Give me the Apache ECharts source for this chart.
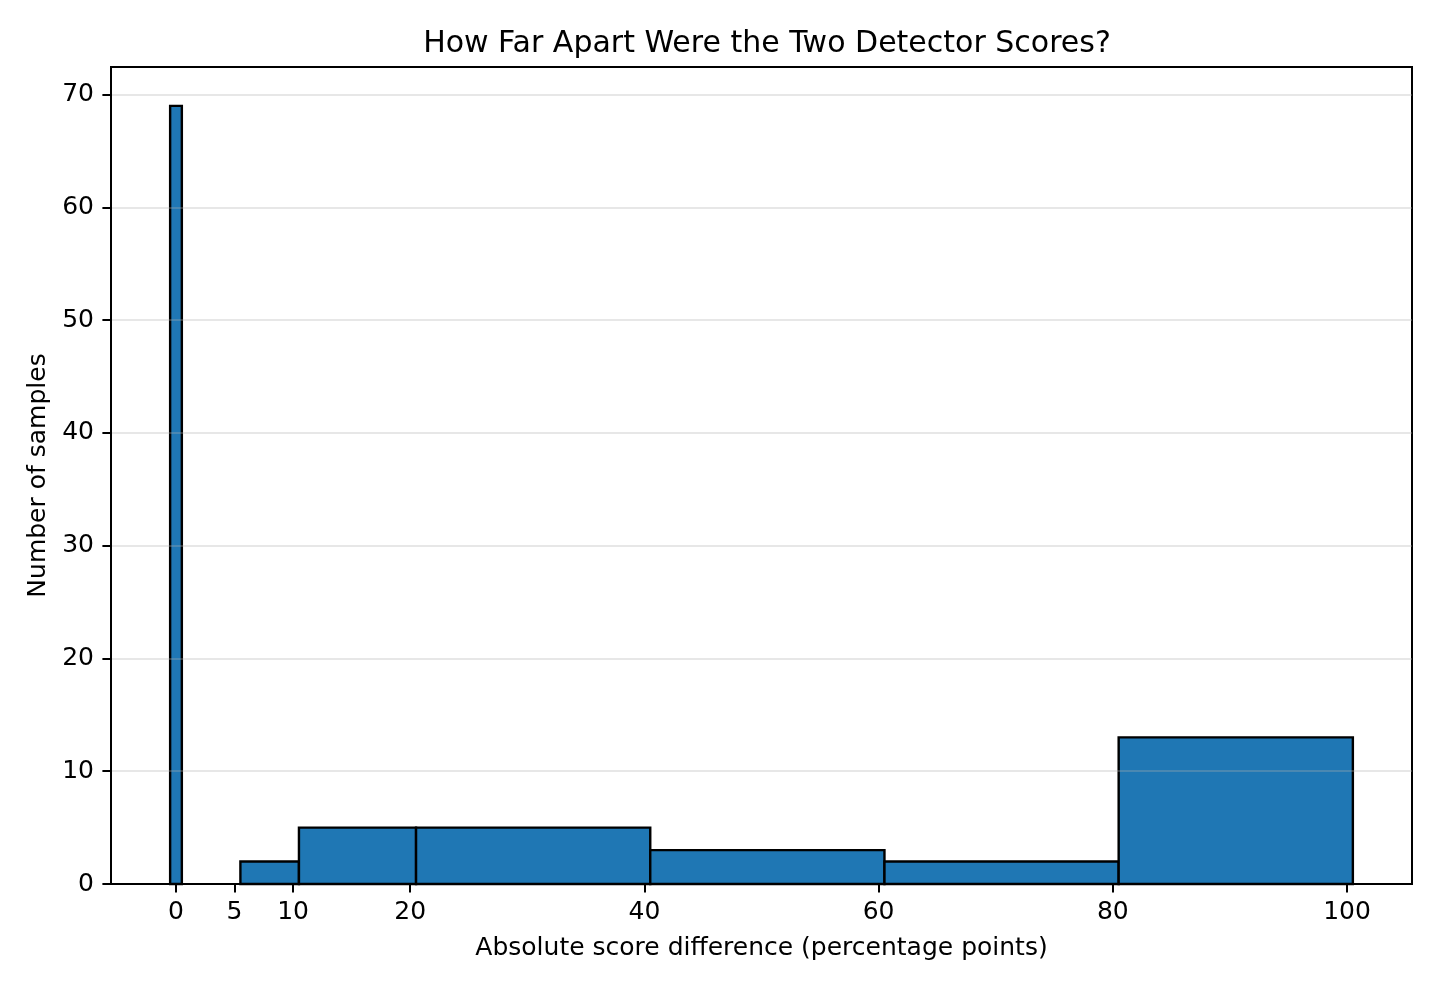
<!DOCTYPE html>
<html>
<head>
<meta charset="utf-8">
<title>Detector score difference</title>
<script src="https://cdn.jsdelivr.net/npm/echarts@6/dist/echarts.min.js"></script>
<style>
    html, body { margin: 0; padding: 0; background: #fff; }
    #chart { width: 1440px; height: 990px; }
</style>
</head>
<body>
<div id="chart"></div>
<script>
// histogram bin edges (percentage points) and counts per bin
var binEdges = [-0.5, 0.5, 5.5, 10.5, 20.5, 40.5, 60.5, 80.5, 100.5];
var binCounts = [69, 0, 2, 5, 5, 3, 2, 13];
var xTicks = [0, 5, 10, 20, 40, 60, 80, 100];
var yTicks = [0, 10, 20, 30, 40, 50, 60, 70];

var FONT = "DejaVu Sans";

var bins = binCounts.map(function (c, i) {
    return [binEdges[i], binEdges[i + 1], c];
});

var chart = echarts.init(document.getElementById("chart"));
chart.setOption({
    animation: false,
    textStyle: { fontFamily: FONT, color: "#000" },
    title: {
        text: "How Far Apart Were the Two Detector Scores?",
        left: 762, top: 24,
        textAlign: "center",
        textStyle: { fontFamily: FONT, fontSize: 30, fontWeight: "normal", color: "#000" }
    },
    grid: {
        left: 111, right: 28, top: 67, bottom: 106,
        show: true, borderColor: "#000", borderWidth: 2, backgroundColor: "transparent"
    },
    xAxis: {
        type: "value",
        min: -5.55, max: 105.55,
        z: 5,
        name: "Absolute score difference (percentage points)",
        nameLocation: "middle",
        nameGap: 52,
        nameTextStyle: { fontFamily: FONT, fontSize: 25, color: "#000" },
        axisLine: { show: true, onZero: false, lineStyle: { color: "#000", width: 2 } },
        axisTick: { show: true, inside: false, length: 8.6, customValues: xTicks, lineStyle: { color: "#000", width: 2 } },
        axisLabel: { margin: 16, customValues: xTicks, fontFamily: FONT, fontSize: 25, color: "#000" },
        splitLine: { show: false }
    },
    yAxis: {
        type: "value",
        min: 0, max: 72.45,
        interval: 10,
        z: 5,
        name: "Number of samples",
        nameLocation: "middle",
        nameGap: 58,
        nameRotate: 90,
        nameTextStyle: { fontFamily: FONT, fontSize: 25, color: "#000" },
        axisLine: { show: true, onZero: false, lineStyle: { color: "#000", width: 2 } },
        axisTick: { show: true, inside: false, length: 8.6, customValues: yTicks, lineStyle: { color: "#000", width: 2 } },
        axisLabel: { margin: 17, customValues: yTicks, fontFamily: FONT, fontSize: 25, color: "#000",
                     padding: [4, 0, 0, 0] },
        splitLine: { show: true, lineStyle: { color: "rgba(176,176,176,0.3)", width: 2 } }
    },
    series: [{
        type: "custom",
        z: 2,
        data: bins,
        encode: { x: [0, 1], y: 2 },
        renderItem: function (params, api) {
            if (!api.value(2)) {
                return null;
            }
            var p0 = api.coord([api.value(0), api.value(2)]);
            var p1 = api.coord([api.value(1), 0]);
            return {
                type: "rect",
                shape: { x: p0[0], y: p0[1], width: p1[0] - p0[0], height: p1[1] - p0[1] },
                style: { fill: "#1f77b4", stroke: "#000", lineWidth: 2.4 }
            };
        }
    }]
});
</script>
</body>
</html>
